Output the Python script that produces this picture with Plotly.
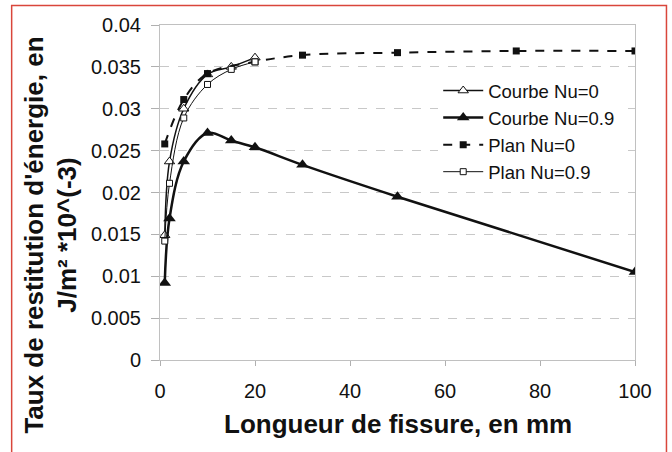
import plotly.graph_objects as go

# Data
x_courbe_nu0 = [1, 2, 5, 10, 15, 20]
y_courbe_nu0 = [0.0149, 0.0237, 0.0300, 0.0341, 0.0350, 0.0361]

x_courbe_nu09 = [1, 2, 5, 10, 15, 20, 30, 50, 100]
y_courbe_nu09 = [0.0092, 0.0169, 0.0237, 0.0271, 0.0262, 0.0254, 0.0233, 0.0195, 0.0105]

x_plan_nu0 = [1, 5, 10, 20, 30, 50, 75, 100]
y_plan_nu0 = [0.0258, 0.0311, 0.0342, 0.0356, 0.0364, 0.0367, 0.0369, 0.0369]

x_plan_nu09 = [1, 2, 5, 10, 15, 20]
y_plan_nu09 = [0.0142, 0.0211, 0.0289, 0.0329, 0.0347, 0.0356]

x_ticks = [0, 20, 40, 60, 80, 100]
y_ticks = [0, 0.005, 0.01, 0.015, 0.02, 0.025, 0.03, 0.035, 0.04]
y_tick_labels = ["0", "0.005", "0.01", "0.015", "0.02", "0.025", "0.03", "0.035", "0.04"]

FONT = "Liberation Sans, Arial, sans-serif"
INK = "#111111"

fig = go.Figure()

fig.add_trace(go.Scatter(
    x=x_courbe_nu0, y=y_courbe_nu0, name="Courbe Nu=0", mode="lines+markers",
    line=dict(color=INK, width=1.5, shape="spline", smoothing=1),
    marker=dict(symbol="triangle-up", size=9, color="white", line=dict(color=INK, width=1)),
))
fig.add_trace(go.Scatter(
    x=x_courbe_nu09, y=y_courbe_nu09, name="Courbe Nu=0.9", mode="lines+markers",
    line=dict(color=INK, width=2.5, shape="spline", smoothing=1),
    marker=dict(symbol="triangle-up", size=11, color=INK),
))
fig.add_trace(go.Scatter(
    x=x_plan_nu0, y=y_plan_nu0, name="Plan Nu=0", mode="lines+markers",
    line=dict(color=INK, width=2, dash="dash", shape="spline", smoothing=1),
    marker=dict(symbol="square", size=7, color=INK),
))
fig.add_trace(go.Scatter(
    x=x_plan_nu09, y=y_plan_nu09, name="Plan Nu=0.9", mode="lines+markers",
    line=dict(color=INK, width=1, shape="spline", smoothing=1),
    marker=dict(symbol="square", size=6, color="white", line=dict(color=INK, width=1)),
))

L, R, T, B = 159.5, 37, 25, 92
W, H = 672, 452
pw, ph = W - L - R, H - T - B

def px_x(p):
    return (p - L) / pw

def px_y(p):
    return (H - B - p) / ph

fig.update_layout(
    width=W, height=H,
    margin=dict(l=L, r=R, t=T, b=B, pad=0),
    paper_bgcolor="white", plot_bgcolor="white",
    font=dict(family=FONT, color=INK),
    showlegend=True,
    legend=dict(
        x=px_x(438), y=px_y(72), xanchor="left", yanchor="top",
        bgcolor="white", font=dict(size=18.5, family=FONT, color=INK),
        itemwidth=40, tracegroupgap=0,
    ),
    xaxis=dict(
        range=[0, 100], tickvals=x_ticks, ticks="outside", ticklen=5,
        tickcolor="#b0b0b0", showline=True, linecolor="#c0c0c0", linewidth=1,
        mirror=True, showgrid=False, zeroline=False,
        tickfont=dict(size=20, family=FONT, color=INK), ticklabelstandoff=8,
    ),
    yaxis=dict(
        range=[0, 0.04], tickvals=y_ticks, ticktext=y_tick_labels, ticks="outside",
        ticklen=8, tickcolor="#b0b0b0", showline=True, linecolor="#c0c0c0",
        linewidth=1, mirror=True, showgrid=True, gridcolor="#c8c8c8",
        griddash="dash", gridwidth=1, zeroline=False,
        tickfont=dict(size=20, family=FONT, color=INK), ticklabelstandoff=6,
    ),
    annotations=[
        dict(
            text="Longueur de fissure, en mm", xref="paper", yref="paper",
            x=px_x(397.5), y=px_y(424), xanchor="center", yanchor="middle",
            showarrow=False, font=dict(size=26, family=FONT, color=INK, weight="bold"),
        ),
        dict(
            text="Taux de restitution d'énergie, en<br>J/m² *10^(-3)",
            xref="paper", yref="paper", x=px_x(50), y=px_y(235),
            xanchor="center", yanchor="middle", textangle=-90, showarrow=False,
            font=dict(size=26, family=FONT, color=INK, weight="bold"),
        ),
    ],
    shapes=[
        dict(type="rect", xref="paper", yref="paper",
             x0=px_x(11), x1=px_x(666.5), y0=px_y(470), y1=px_y(5.5),
             line=dict(color="#d9463b", width=1.5), fillcolor="rgba(0,0,0,0)",
             layer="above"),
    ],
)

fig.write_html("out.html")
